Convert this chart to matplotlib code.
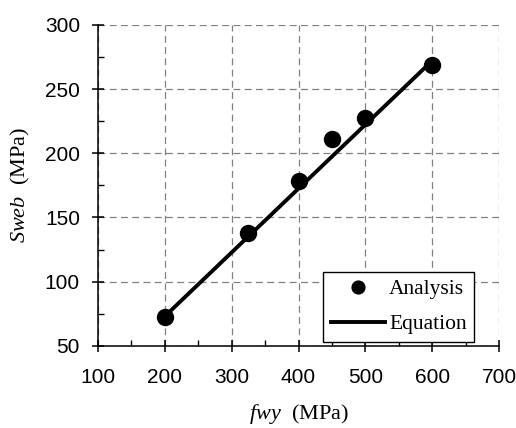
import matplotlib.pyplot as plt
from matplotlib.ticker import MultipleLocator

# data
fwy = [200, 325, 400, 450, 500, 600]
sweb = [72.6, 138, 178.5, 211, 227.6, 269]
eq_fwy = [200, 600]
eq_sweb = [73, 272]

plt.rcParams['mathtext.fontset'] = 'custom'
plt.rcParams['mathtext.rm'] = 'Liberation Serif'
plt.rcParams['mathtext.it'] = 'Liberation Serif:italic'

fig = plt.figure(figsize=(5.16, 4.28), dpi=100)
ax = fig.add_axes([0.190, 0.192, 0.777, 0.750])

ax.plot(eq_fwy, eq_sweb, color='black', lw=2.8, label='Equation', zorder=3)
ax.plot(fwy, sweb, 'o', color='black', ms=11.5, label='Analysis', zorder=4)

ax.set_xlim(100, 700)
ax.set_ylim(50, 300)
ax.xaxis.set_major_locator(MultipleLocator(100))
ax.xaxis.set_minor_locator(MultipleLocator(50))
ax.yaxis.set_major_locator(MultipleLocator(50))
ax.yaxis.set_minor_locator(MultipleLocator(25))

ax.grid(True, which='major', color='#808080', ls=(0, (5.5, 3.5)), lw=0.9)
ax.spines['top'].set_visible(False)
ax.spines['right'].set_visible(False)
for s in ['left', 'bottom']:
    ax.spines[s].set_linewidth(1.1)

ax.tick_params(which='major', direction='inout', length=8, width=1.1,
               labelsize=15, pad=9)
ax.tick_params(axis='x', which='major', pad=12)
ax.tick_params(which='minor', direction='in', length=4, width=1)
for lab in ax.get_xticklabels() + ax.get_yticklabels():
    lab.set_family('Liberation Sans')

ax.set_xlabel(r'$\it{fwy}$  (MPa)', family='Liberation Serif', fontsize=16, labelpad=11)
ax.set_ylabel(r'$\it{Sweb}$  (MPa)', family='Liberation Serif', fontsize=16, labelpad=9)

h, l = ax.get_legend_handles_labels()
leg = ax.legend([h[1], h[0]], [l[1], l[0]], loc='lower right',
                bbox_to_anchor=(0.938, 0.012), borderaxespad=0, fancybox=False,
                edgecolor='black', framealpha=1, handlelength=2.5,
                markerscale=0.8, numpoints=1,
                prop={'family': 'Liberation Serif', 'size': 15.5}, borderpad=0.35,
                labelspacing=0.7, handletextpad=0.2)
leg.get_frame().set_linewidth(1)

fig.savefig('out.png', dpi=100)
